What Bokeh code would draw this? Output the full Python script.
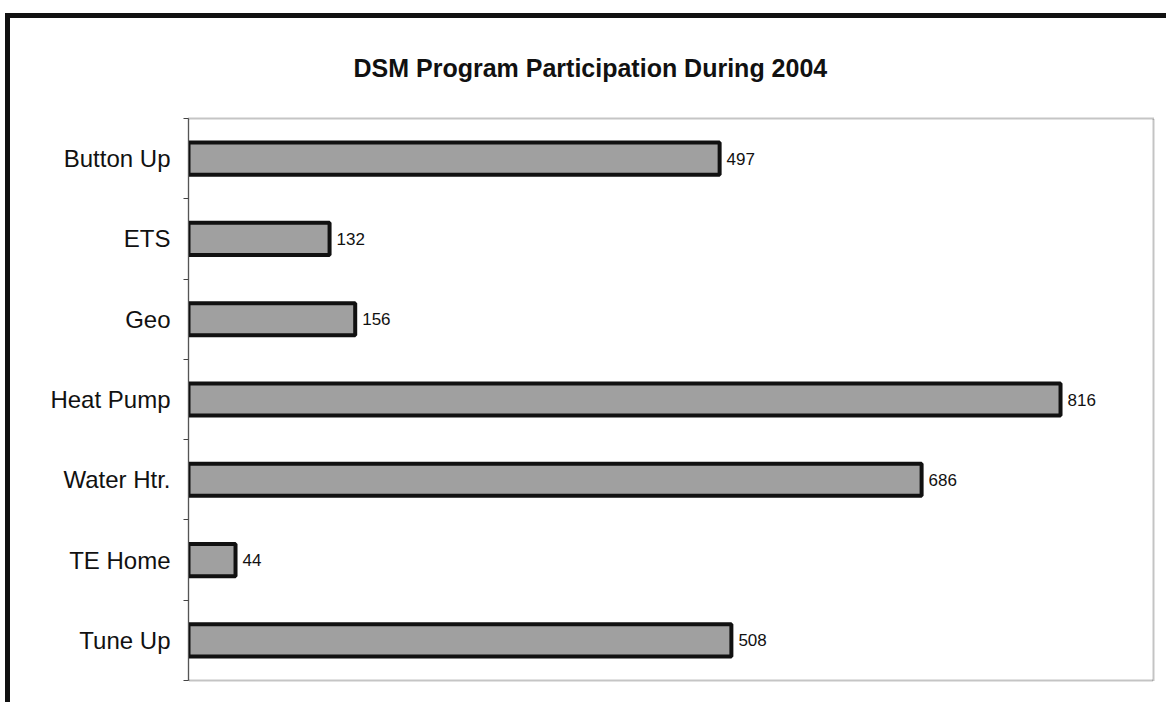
from bokeh.plotting import figure
from bokeh.models import ColumnDataSource, FixedTicker, Range1d
from bokeh.core.properties import value
from bokeh.embed import file_html
from bokeh.resources import INLINE

categories = ["Button Up", "ETS", "Geo", "Heat Pump", "Water Htr.", "TE Home", "Tune Up"]
participants = [497, 132, 156, 816, 686, 44, 508]
value_labels = ["497", "132", "156", "816", "686", "44", "508"]
title_text = "DSM Program Participation During 2004"

ypos = [i + 0.5 for i in range(len(categories))]
src = ColumnDataSource(dict(cat=categories, v=participants, y=ypos, lab=value_labels))

p = figure(width=1161, height=689, output_backend="svg", toolbar_location=None,
           x_range=Range1d(0, 903), y_range=Range1d(len(categories), 0),
           min_border_left=178, min_border_right=18, min_border_top=100, min_border_bottom=27)

p.title.text = title_text
p.title.align = "left"
p.title.offset = 165
p.title.vertical_align = "top"
p.title.text_font = "Liberation Sans"
p.title.text_font_size = "25px"
p.title.text_font_style = "bold"
p.title.text_color = "#111111"
p.title.standoff = 69

p.hbar(y="y", right="v", left=0, height=0.4, source=src,
       fill_color="#a0a0a0", line_color="#111111", line_width=4)
p.text(x="v", y="y", text="lab", source=src, x_offset=7,
       text_baseline="middle", text_align="left",
       text_font=value("Liberation Sans"), text_font_size="17px", text_color="#111111")

p.xaxis.visible = False
p.xgrid.visible = False
p.ygrid.visible = False
ax = p.yaxis[0]
ax.ticker = FixedTicker(ticks=ypos, minor_ticks=list(range(len(categories) + 1)))
ax.major_label_overrides = {y: c for y, c in zip(ypos, categories)}
ax.major_tick_line_color = None
ax.minor_tick_out = 5
ax.minor_tick_in = 0
ax.minor_tick_line_color = "#444444"
ax.axis_line_color = "#555555"
ax.major_label_text_font = "Liberation Sans"
ax.major_label_text_font_size = "24px"
ax.major_label_text_color = "#111111"
ax.major_label_standoff = 12

p.outline_line_color = "#8a8a8a"
p.outline_line_dash = "1 1"
p.outline_line_width = 2
p.styles = {"border-left": "5px solid #111111", "border-top": "5px solid #111111",
            "margin-left": "5px", "margin-top": "13px", "box-sizing": "border-box"}

open("out.html", "w").write(file_html(p, INLINE))
